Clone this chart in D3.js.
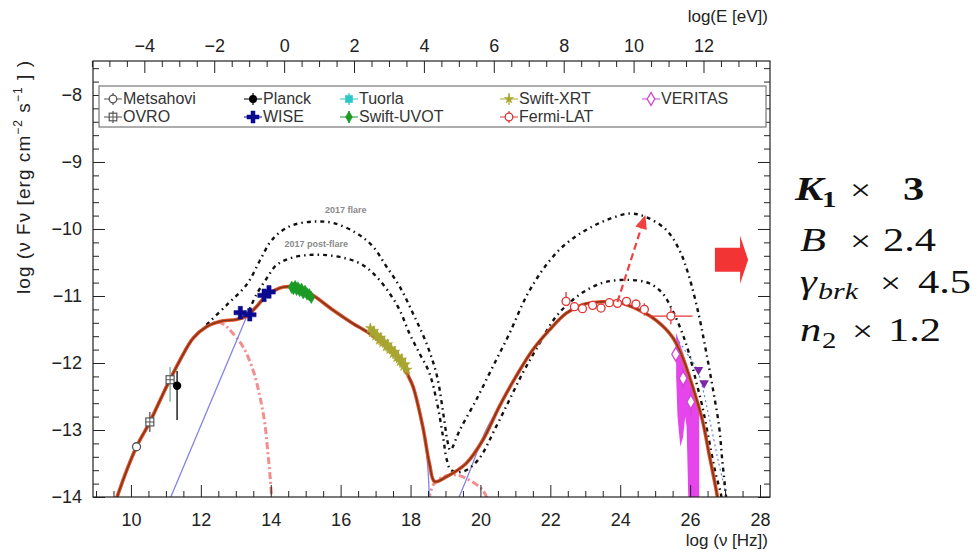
<!DOCTYPE html>
<html>
<head>
<meta charset="utf-8">
<script src="https://cdn.jsdelivr.net/npm/d3@7"></script>
<style>
body { margin: 0; background: #fff; }
text { font-family: "Liberation Sans", Arial, Helvetica, sans-serif; }
</style>
</head>
<body>
<svg id="chart" width="979" height="554"></svg>
<script>
// axis ranges (log nu on x, log nuFnu on y), top axis is log E = log nu - log(1/h)
const nuRange = [8.914, 28.286];
const fluxRange = [-14, -7.493];
const logHzPerEv = 14.383;

const xTicks = [10, 12, 14, 16, 18, 20, 22, 24, 26, 28];
const yTicks = [-14, -13, -12, -11, -10, -9, -8];
const eTicks = [-4, -2, 0, 2, 4, 6, 8, 10, 12];

// model curves [log nu, log nuFnu]
const modelTotal = [
  [9.57, -14.05], [9.88, -13.60], [10.16, -13.25], [10.54, -12.88], [11.02, -12.35],
  [11.40, -11.96], [11.78, -11.63], [12.16, -11.46], [12.54, -11.38], [13.02, -11.35],
  [13.31, -11.30], [13.59, -11.16], [13.88, -10.99], [14.26, -10.88], [14.50, -10.86],
  [14.80, -10.88], [15.21, -10.99], [15.78, -11.21], [16.35, -11.41], [16.83, -11.56],
  [17.31, -11.76], [17.69, -11.96], [17.92, -12.18], [18.07, -12.35], [18.35, -12.95],
  [18.54, -13.50], [18.69, -13.77], [19.02, -13.70], [19.59, -13.50], [20.07, -13.15],
  [20.54, -12.65], [21.02, -12.20], [21.49, -11.81], [21.97, -11.51], [22.45, -11.26],
  [22.92, -11.13], [23.40, -11.09], [23.92, -11.09], [24.54, -11.21], [25.02, -11.36],
  [25.49, -11.61], [25.78, -11.91], [26.07, -12.35], [26.35, -12.85], [26.54, -13.35],
  [26.73, -13.85], [26.80, -14.05]
];

const flare2017 = [
  [12.16, -11.43], [12.75, -11.13], [13.31, -10.83], [13.69, -10.47], [13.98, -10.20],
  [14.26, -10.05], [14.64, -9.94], [15.21, -9.89], [15.78, -9.91], [16.45, -10.06],
  [16.92, -10.26], [17.31, -10.56], [17.69, -10.86], [18.07, -11.26], [18.45, -11.70],
  [18.75, -12.18], [18.95, -12.80], [19.07, -13.20], [19.14, -13.30], [19.41, -13.00],
  [19.88, -12.55], [20.35, -12.06], [20.83, -11.56], [21.31, -11.01], [21.78, -10.61],
  [22.26, -10.31], [22.73, -10.11], [23.11, -9.99], [23.59, -9.87], [24.26, -9.77],
  [24.73, -9.82], [25.31, -10.01], [25.69, -10.31], [25.97, -10.71], [26.26, -11.31],
  [26.45, -11.81], [26.64, -12.35], [26.83, -12.95], [26.92, -13.45], [27.02, -13.95],
  [27.05, -14.10]
];

const postFlare2017 = [
  [13.31, -11.30], [13.59, -10.98], [13.88, -10.74], [14.16, -10.54],
  [14.54, -10.44], [15.02, -10.39], [15.59, -10.39], [16.16, -10.44], [16.64, -10.54],
  [17.02, -10.71], [17.40, -10.96], [17.69, -11.21], [17.97, -11.56], [18.26, -11.86],
  [18.54, -12.15], [18.76, -12.60], [18.93, -13.10], [19.04, -13.45], [19.16, -13.60],
  [19.50, -13.62], [19.93, -13.45], [20.45, -12.95], [20.83, -12.55], [21.21, -12.15],
  [21.59, -11.80], [22.16, -11.31], [22.64, -11.06], [23.11, -10.89], [23.59, -10.79],
  [24.26, -10.76], [24.83, -10.81], [25.21, -10.96], [25.49, -11.21], [25.78, -11.56],
  [25.97, -11.86], [26.16, -12.25], [26.35, -12.65], [26.54, -13.15], [26.73, -13.65],
  [26.88, -13.95], [26.92, -14.10]
];

const zone1Sync = [
  [9.57, -14.05], [9.88, -13.60], [10.16, -13.25], [10.54, -12.88], [11.02, -12.35],
  [11.40, -11.96], [11.78, -11.63], [12.16, -11.46], [12.50, -11.39], [12.72, -11.45],
  [12.92, -11.56], [13.21, -11.76], [13.49, -12.10], [13.69, -12.50], [13.83, -12.90],
  [13.92, -13.35], [13.99, -13.75], [14.03, -14.05]
];
const zone1Ssc = [
  [18.52, -14.05], [18.65, -13.82], [18.93, -13.70], [19.31, -13.67], [19.69, -13.75],
  [20.07, -13.90], [20.21, -14.05]
];

const zone2SyncRise = [[11.14, -14.0], [13.31, -11.31]];
const zone2SyncFall = [[18.20, -12.62], [18.40, -13.10], [18.50, -13.60], [18.54, -14.05]];
const zone2SscRise = [[19.35, -14.05], [19.69, -13.62], [20.16, -13.00], [20.50, -12.70]];

const veritasModel = [
  [25.60, -11.62], [25.90, -11.85], [26.20, -12.10], [26.54, -12.80], [26.80, -13.45],
  [27.02, -13.95], [27.06, -14.10]
];
const veritasBand = [
  [25.60, -11.55], [25.80, -11.85], [26.00, -12.20], [26.26, -12.75], [26.26, -14.05],
  [25.95, -14.05], [25.90, -12.95], [25.86, -12.80], [25.80, -13.10], [25.72, -13.25],
  [25.64, -12.80], [25.60, -12.20]
];

// measurements [log nu, log nuFnu, err down, err up, x err]
const metsahovi = [[10.16, -13.25, 0.05, 0.05, 0]];
const ovro = [[10.54, -12.88, 0.15, 0.15, 0]];
const mmRadio = [[11.12, -12.25, 0.33, 0.19, 0]];
const planck = [[11.32, -12.34, 0.51, 0.22, 0]];
const wise = [
  [13.13, -11.25, 0.04, 0.04, 0.08], [13.40, -11.28, 0.04, 0.04, 0.08],
  [13.81, -10.99, 0.04, 0.04, 0.07], [13.95, -10.94, 0.04, 0.04, 0.07]
];
const tuorla = [[14.67, -10.87, 0.03, 0.03, 0]];
const uvot = [
  [14.60, -10.87, 0.03, 0.03, 0.03], [14.65, -10.89, 0.03, 0.03, 0.03], [14.70, -10.86, 0.03, 0.03, 0.03],
  [14.74, -10.90, 0.03, 0.03, 0.03], [14.78, -10.88, 0.03, 0.03, 0.03], [14.83, -10.92, 0.03, 0.03, 0.03],
  [14.88, -10.90, 0.03, 0.03, 0.03], [14.93, -10.95, 0.03, 0.03, 0.03], [14.98, -10.93, 0.03, 0.03, 0.03],
  [15.04, -10.97, 0.03, 0.03, 0.03], [15.10, -10.98, 0.03, 0.03, 0.03], [15.16, -11.02, 0.03, 0.03, 0.03]
];
const xrt = [
  [16.85, -11.48, 0.07, 0.07, 0.03], [16.90, -11.55, 0.07, 0.07, 0.03], [16.95, -11.52, 0.07, 0.07, 0.03],
  [17.00, -11.60, 0.07, 0.07, 0.03], [17.05, -11.58, 0.07, 0.07, 0.03], [17.10, -11.66, 0.07, 0.07, 0.03],
  [17.15, -11.62, 0.07, 0.07, 0.03], [17.20, -11.70, 0.07, 0.07, 0.03], [17.25, -11.68, 0.07, 0.07, 0.03],
  [17.30, -11.76, 0.07, 0.07, 0.03], [17.35, -11.72, 0.07, 0.07, 0.03], [17.40, -11.80, 0.07, 0.07, 0.03],
  [17.45, -11.78, 0.08, 0.08, 0.03], [17.50, -11.86, 0.08, 0.08, 0.03], [17.55, -11.83, 0.08, 0.08, 0.03],
  [17.60, -11.92, 0.08, 0.08, 0.03], [17.65, -11.90, 0.08, 0.08, 0.03], [17.70, -11.98, 0.09, 0.09, 0.03],
  [17.75, -11.95, 0.09, 0.09, 0.03], [17.80, -12.05, 0.09, 0.09, 0.03], [17.85, -12.02, 0.10, 0.10, 0.03],
  [17.90, -12.10, 0.10, 0.10, 0.03]
];
const fermi = [
  [22.45, -11.08, 0.06, 0.14, 0.12], [22.69, -11.16, 0.06, 0.06, 0.12], [22.92, -11.19, 0.06, 0.06, 0.12],
  [23.21, -11.14, 0.06, 0.06, 0.12], [23.45, -11.18, 0.05, 0.05, 0.12], [23.69, -11.10, 0.06, 0.06, 0.12],
  [23.92, -11.11, 0.05, 0.05, 0.12], [24.18, -11.08, 0.06, 0.06, 0.12], [24.45, -11.12, 0.07, 0.07, 0.12],
  [24.69, -11.20, 0.09, 0.09, 0.12], [25.45, -11.30, 0.12, 0.12, 0.62]
];
const veritas = [
  [25.59, -11.87, 0.10, 0.10, 0], [25.80, -12.23, 0.15, 0.15, 0], [26.02, -12.58, 0.20, 0.20, 0]
];
const veritasUL = [[26.24, -12.10], [26.40, -12.30]];

const legendNames = ['Metsahovi', 'Planck', 'Tuorla', 'Swift-XRT', 'VERITAS',
                     'OVRO', 'WISE', 'Swift-UVOT', 'Fermi-LAT'];

const styles = {
  'Metsahovi':  {color: '#555', marker: 'circleOpen'},
  'OVRO':       {color: '#555', marker: 'squareCross'},
  'Planck':     {color: '#000', marker: 'circleFilled'},
  'WISE':       {color: '#0a0a90', marker: 'cross'},
  'Tuorla':     {color: '#2cc6c6', marker: 'square'},
  'Swift-UVOT': {color: '#1c9a24', marker: 'diamond'},
  'Swift-XRT':  {color: '#a8a632', marker: 'star'},
  'Fermi-LAT':  {color: '#e03434', marker: 'circleOpen'},
  'VERITAS':    {color: '#d044d0', marker: 'diamondOpen'}
};

const svg = d3.select('#chart');
const pL = 93, pR = 770, pT = 61, pB = 497;

const x = d3.scaleLinear().domain(nuRange).range([pL, pR]);
const y = d3.scaleLinear().domain(fluxRange).range([pB, pT]);
const xE = d3.scaleLinear()
    .domain([nuRange[0] - logHzPerEv, nuRange[1] - logHzPerEv])
    .range([pL, pR]);

svg.append('clipPath').attr('id', 'plotClip')
    .append('rect')
    .attr('x', pL).attr('y', pT)
    .attr('width', pR - pL).attr('height', pB - pT);

const plot = svg.append('g').attr('clip-path', 'url(#plotClip)');

const line = d3.line().x(d => x(d[0])).y(d => y(d[1])).curve(d3.curveCatmullRom.alpha(0.5));
const straight = d3.line().x(d => x(d[0])).y(d => y(d[1]));

// VERITAS butterfly
plot.append('path')
    .attr('d', straight(veritasBand) + 'Z')
    .attr('fill', '#e024e8')
    .attr('opacity', 0.85);

// emission components
function drawCurve(data, gen, stroke, width, dash, opacity) {
  plot.append('path')
      .attr('d', gen(data))
      .attr('fill', 'none')
      .attr('stroke', stroke)
      .attr('stroke-width', width)
      .attr('stroke-dasharray', dash)
      .attr('stroke-opacity', opacity || 1);
}
drawCurve(zone1Sync, line, '#f07a7a', 3, '7,3,2,3', 0.85);
drawCurve(zone1Ssc, line, '#f07a7a', 3, '7,3,2,3', 0.85);
drawCurve(zone2SyncRise, straight, '#8484e6', 1.3, null);
drawCurve(zone2SyncFall, line, '#8484e6', 1.3, null);
drawCurve(zone2SscRise, line, '#8484e6', 1.3, null);
drawCurve(veritasModel, line, '#5a8ae0', 1.2, '2,3');

drawCurve(flare2017, line, '#111', 2.4, '4,4,1.5,4');
drawCurve(postFlare2017, line, '#111', 2.4, '4,4,1.5,4');

drawCurve(modelTotal, line, '#e0562c', 3.6, null);
drawCurve(modelTotal, line, '#84341c', 1.6, null);

// labels on the flare curves
plot.append('text')
    .attr('x', x(16.15)).attr('y', y(-9.76))
    .attr('text-anchor', 'middle')
    .style('font-size', '9px').style('font-weight', 'bold')
    .attr('fill', '#8a8a8a')
    .text('2017 flare');
plot.append('text')
    .attr('x', x(15.3)).attr('y', y(-10.27))
    .attr('text-anchor', 'middle')
    .style('font-size', '9px').style('font-weight', 'bold')
    .attr('fill', '#8a8a8a')
    .text('2017 post-flare');

// markers
function drawMarker(g, name, cx, cy, scale) {
  const st = styles[name];
  const s = scale || 1;
  if (st.marker === 'circleOpen') {
    g.append('circle').attr('cx', cx).attr('cy', cy).attr('r', 4 * s)
        .attr('fill', '#fff').attr('stroke', st.color).attr('stroke-width', 1.3);
  } else if (st.marker === 'circleFilled') {
    g.append('circle').attr('cx', cx).attr('cy', cy).attr('r', 4.2 * s).attr('fill', st.color);
  } else if (st.marker === 'squareCross') {
    g.append('rect').attr('x', cx - 4 * s).attr('y', cy - 4 * s)
        .attr('width', 8 * s).attr('height', 8 * s)
        .attr('fill', '#fff').attr('stroke', st.color).attr('stroke-width', 1.2);
    g.append('path').attr('d', `M${cx - 4 * s},${cy}H${cx + 4 * s}M${cx},${cy - 4 * s}V${cy + 4 * s}`)
        .attr('stroke', st.color).attr('stroke-width', 1);
  } else if (st.marker === 'square') {
    g.append('rect').attr('x', cx - 4 * s).attr('y', cy - 4 * s)
        .attr('width', 8 * s).attr('height', 8 * s).attr('fill', st.color);
  } else {
    const types = {cross: d3.symbolCross, diamond: d3.symbolDiamond, star: d3.symbolStar, diamondOpen: d3.symbolDiamond};
    const sizes = {cross: 90, diamond: 45, star: 30, diamondOpen: 55};
    const open = st.marker === 'diamondOpen';
    g.append('path')
        .attr('transform', `translate(${cx},${cy})`)
        .attr('d', d3.symbol().type(types[st.marker]).size(sizes[st.marker] * s * s)())
        .attr('fill', open ? '#fff' : st.color)
        .attr('stroke', st.color)
        .attr('stroke-width', open ? 1.3 : 0.5);
  }
}

function drawPoints(points, name, colorOverride) {
  const color = colorOverride || styles[name].color;
  const g = plot.append('g');
  points.forEach(p => {
    const [nu, f, lo, hi, xe] = p;
    g.append('line')
        .attr('x1', x(nu)).attr('x2', x(nu))
        .attr('y1', y(f - lo)).attr('y2', y(f + hi))
        .attr('stroke', color).attr('stroke-width', 1.3);
    if (xe > 0) {
      g.append('line')
          .attr('x1', x(nu - xe)).attr('x2', x(nu + xe))
          .attr('y1', y(f)).attr('y2', y(f))
          .attr('stroke', color).attr('stroke-width', 1.3);
    }
  });
  points.forEach(p => drawMarker(g, name, x(p[0]), y(p[1]), 1));
}

drawPoints(metsahovi, 'Metsahovi');
drawPoints(ovro, 'OVRO');
drawPoints(mmRadio, 'OVRO', '#7aa6a6');
drawPoints(planck, 'Planck');
drawPoints(tuorla, 'Tuorla');
drawPoints(uvot, 'Swift-UVOT');
drawPoints(wise, 'WISE');
drawPoints(xrt, 'Swift-XRT');
drawPoints(fermi, 'Fermi-LAT');
drawPoints(veritas, 'VERITAS');

plot.selectAll('.ul')
    .data(veritasUL)
    .join('path')
    .attr('class', 'ul')
    .attr('transform', d => `translate(${x(d[0])},${y(d[1])}) rotate(180)`)
    .attr('d', d3.symbol().type(d3.symbolTriangle).size(40)())
    .attr('fill', '#7a2aa8');

// dashed arrow from the Fermi peak towards the flare peak
const boostFrom = [23.92, -11.09], boostTo = [24.72, -9.79];
{
  const x0 = x(boostFrom[0]), y0 = y(boostFrom[1]);
  const x1 = x(boostTo[0]), y1 = y(boostTo[1]);
  const ang = Math.atan2(y1 - y0, x1 - x0);
  const headLen = 14, headHalf = 6;
  const bx = x1 - headLen * Math.cos(ang), by = y1 - headLen * Math.sin(ang);
  plot.append('line')
      .attr('x1', x0).attr('y1', y0).attr('x2', bx).attr('y2', by)
      .attr('stroke', '#f04040').attr('stroke-width', 2.2)
      .attr('stroke-dasharray', '7,4');
  const px = -Math.sin(ang), py = Math.cos(ang);
  plot.append('path')
      .attr('d', `M${x1},${y1}L${bx + px * headHalf},${by + py * headHalf}L${bx - px * headHalf},${by - py * headHalf}Z`)
      .attr('fill', '#f04040');
}

// block arrow at the right edge
{
  const xa = x(26.71), xb = x(27.43), xt = x(27.66);
  const ym = y(-10.46);
  const bh = 12, hh = 24;
  plot.append('path')
      .attr('d', `M${xa},${ym - bh}H${xb}V${ym - hh}L${xt},${ym}L${xb},${ym + hh}V${ym + bh}H${xa}Z`)
      .attr('fill', '#f23434');
}

// axes
function styleAxis(g) {
  g.select('.domain').remove();
  g.selectAll('text').style('font-size', '18px').attr('fill', '#222')
      .style('font-family', '"Liberation Sans", Arial, sans-serif');
  g.selectAll('line').attr('stroke', '#222');
}

const xMinor = d3.range(18, 57).map(i => i / 2).filter(v => v % 2 !== 0);
const eMinor = d3.range(-11, 28).map(i => i / 2).filter(v => v % 2 !== 0);
const yMinor = d3.range(0, 33).map(i => -14 + i * 0.2).filter(v => Math.abs(v - Math.round(v)) > 0.01);

svg.append('g').attr('transform', `translate(0,${pB})`)
    .call(d3.axisBottom(x).tickValues(xTicks).tickFormat(d3.format('d'))
        .tickSizeInner(-12).tickSizeOuter(0).tickPadding(16))
    .call(styleAxis);
svg.append('g').attr('transform', `translate(0,${pB})`)
    .call(d3.axisBottom(x).tickValues(xMinor).tickFormat('').tickSizeInner(-6).tickSizeOuter(0))
    .call(styleAxis);

svg.append('g').attr('transform', `translate(0,${pT})`)
    .call(d3.axisTop(xE).tickValues(eTicks).tickFormat(d3.format('d'))
        .tickSizeInner(-12).tickSizeOuter(0).tickPadding(9))
    .call(styleAxis);
svg.append('g').attr('transform', `translate(0,${pT})`)
    .call(d3.axisTop(xE).tickValues(eMinor).tickFormat('').tickSizeInner(-6).tickSizeOuter(0))
    .call(styleAxis);

svg.append('g').attr('transform', `translate(${pL},0)`)
    .call(d3.axisLeft(y).tickValues(yTicks).tickFormat(d3.format('d'))
        .tickSizeInner(-12).tickSizeOuter(0).tickPadding(11))
    .call(styleAxis);
svg.append('g').attr('transform', `translate(${pL},0)`)
    .call(d3.axisLeft(y).tickValues(yMinor).tickFormat('').tickSizeInner(-6).tickSizeOuter(0))
    .call(styleAxis);

svg.append('g').attr('transform', `translate(${pR},0)`)
    .call(d3.axisRight(y).tickValues(yTicks).tickFormat('').tickSizeInner(-12).tickSizeOuter(0))
    .call(styleAxis);
svg.append('g').attr('transform', `translate(${pR},0)`)
    .call(d3.axisRight(y).tickValues(yMinor).tickFormat('').tickSizeInner(-6).tickSizeOuter(0))
    .call(styleAxis);

svg.append('rect')
    .attr('x', pL).attr('y', pT)
    .attr('width', pR - pL).attr('height', pB - pT)
    .attr('fill', 'none').attr('stroke', '#222').attr('stroke-width', 1.2);

// legend
function addLegend() {
  const lg = svg.append('g');
  lg.append('rect')
      .attr('x', 99).attr('y', 86).attr('width', 667).attr('height', 41)
      .attr('fill', '#fff').attr('stroke', '#777').attr('stroke-width', 1.2);
  const colX = [113, 253, 349, 509, 651];
  const rowY = [99, 117];
  legendNames.forEach((name, i) => {
    const cx = colX[i % 5], cy = rowY[Math.floor(i / 5)];
    const c = styles[name].color;
    lg.append('path')
        .attr('d', `M${cx - 9},${cy}H${cx + 9}M${cx},${cy - 6}V${cy + 6}`)
        .attr('stroke', c).attr('stroke-width', 1.2);
    drawMarker(lg, name, cx, cy, 0.95);
    lg.append('text')
        .attr('x', cx + 10).attr('y', cy + 5)
        .style('font-size', '16px').attr('fill', '#333')
        .text(name);
  });
}
addLegend();

// axis titles
svg.append('text')
    .attr('x', pR - 2).attr('y', 546)
    .attr('text-anchor', 'end')
    .style('font-size', '17px').attr('fill', '#222')
    .text('log (ν [Hz])');
svg.append('text')
    .attr('x', pR - 2).attr('y', 22)
    .attr('text-anchor', 'end')
    .style('font-size', '17px').attr('fill', '#222')
    .text('log(E [eV])');

const yTitle = svg.append('text')
    .attr('transform', 'rotate(-90)')
    .attr('x', -pT).attr('y', 30)
    .attr('text-anchor', 'end')
    .attr('textLength', 233)
    .attr('lengthAdjust', 'spacing')
    .style('font-size', '19px').attr('fill', '#222');
yTitle.append('tspan').text('log (ν Fν [erg cm');
yTitle.append('tspan').attr('dy', -8).style('font-size', '12px').text('−2');
yTitle.append('tspan').attr('dy', 8).text(' s');
yTitle.append('tspan').attr('dy', -8).style('font-size', '12px').text('−1');
yTitle.append('tspan').attr('dy', 8).text(' ] )');

// parameter changes listed next to the plot (serif, slightly widened like the original)
const widen = 1.25;
function mathLine(x0, baseline, parts) {
  const t = svg.append('text')
      .attr('transform', `translate(${x0},${baseline}) scale(${widen},1)`)
      .style('font-family', '"Liberation Serif", "DejaVu Serif", serif')
      .style('font-size', '34px')
      .attr('fill', '#111');
  parts.forEach(p => {
    const ts = t.append('tspan').attr('x', (p.x - x0) / widen).attr('y', p.dy || 0).text(p.t);
    if (p.it) ts.style('font-style', 'italic');
    if (p.b) ts.style('font-weight', 'bold');
    if (p.size) ts.style('font-size', p.size);
  });
}
mathLine(795, 200, [
  {t: 'K', x: 795, it: true, b: true},
  {t: '1', x: 822, b: true, dy: 7, size: '23px'},
  {t: '×', x: 850, size: '30px'},
  {t: '3', x: 903, b: true}
]);
mathLine(800, 251, [
  {t: 'B', x: 800, it: true},
  {t: '×', x: 850, size: '30px'},
  {t: '2.4', x: 883}
]);
mathLine(800, 293, [
  {t: 'γ', x: 800, it: true},
  {t: 'brk', x: 818, it: true, dy: 6, size: '24px'},
  {t: '×', x: 880, size: '30px'},
  {t: '4.5', x: 918}
]);
mathLine(800, 341, [
  {t: 'n', x: 800, it: true},
  {t: '2', x: 822, dy: 7, size: '23px'},
  {t: '×', x: 852, size: '30px'},
  {t: '1.2', x: 888}
]);
</script>
</body>
</html>
